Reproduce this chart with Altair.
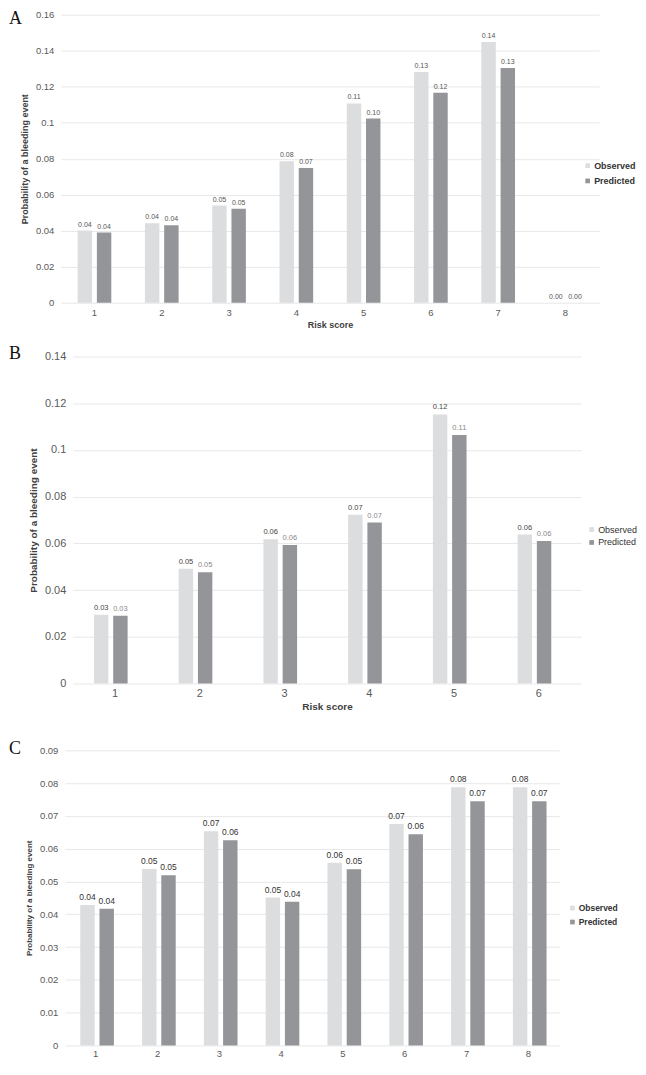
import altair as alt
import pandas as pd

series = ["Observed", "Predicted"]
colors = ["#dcdddf", "#939598"]

scores_a = [1, 2, 3, 4, 5, 6, 7, 8]
obs_a = [0.0401, 0.0442, 0.0540, 0.0786, 0.1107, 0.1281, 0.1448, 0.0]
pred_a = [0.0390, 0.0430, 0.0522, 0.0748, 0.1023, 0.1166, 0.1303, 0.0]
yticks_a = [0, 0.02, 0.04, 0.06, 0.08, 0.10, 0.12, 0.14, 0.16]

scores_b = [1, 2, 3, 4, 5, 6]
obs_b = [0.0295, 0.0491, 0.0618, 0.0723, 0.1152, 0.0638]
pred_b = [0.0290, 0.0476, 0.0593, 0.0689, 0.1064, 0.0610]
yticks_b = [0, 0.02, 0.04, 0.06, 0.08, 0.10, 0.12, 0.14]

scores_c = [1, 2, 3, 4, 5, 6, 7, 8]
obs_c = [0.0428, 0.0538, 0.0653, 0.0451, 0.0557, 0.0675, 0.0787, 0.0787]
pred_c = [0.0417, 0.0519, 0.0626, 0.0438, 0.0537, 0.0644, 0.0745, 0.0745]
yticks_c = [0, 0.01, 0.02, 0.03, 0.04, 0.05, 0.06, 0.07, 0.08, 0.09]

FONT = "Liberation Sans"


def panel(letter, scores, obs, pred, yticks, W, H, L, letter_y, xtitle,
          axis_fs, ytitle_fs, xtitle_fs, bar_fs, bar_colors, legend_fs,
          legend_bold, legend_x, legend_y, legend_rowpad, xlabel_pad):
    df = pd.DataFrame({
        "score": scores * 2,
        "series": [series[0]] * len(scores) + [series[1]] * len(scores),
        "value": obs + pred,
    })
    x_axis = alt.Axis(labelAngle=0, domain=False, ticks=False,
                      labelFontSize=axis_fs, labelColor="#595959", labelFont=FONT,
                      labelPadding=xlabel_pad, titleFontSize=xtitle_fs,
                      titleFontWeight="bold", titleColor="#404040", titleFont=FONT,
                      titlePadding=3)
    x = alt.X("score:O", title=xtitle if xtitle else None,
              scale=alt.Scale(paddingInner=0.5, paddingOuter=0.25), axis=x_axis)
    xo = alt.XOffset("series:N", sort=series, scale=alt.Scale(domain=series, paddingInner=0.25))
    y = alt.Y("value:Q", title="Probability of a bleeding event",
              scale=alt.Scale(domain=[0, yticks[-1]], nice=False),
              axis=alt.Axis(values=yticks, format=".2~f", domain=False, ticks=False,
                            gridColor="#e8e8e8", gridWidth=1,
                            labelFontSize=axis_fs, labelColor="#595959", labelFont=FONT,
                            labelPadding=7, titleFontSize=ytitle_fs, titleFontWeight="bold",
                            titleColor="#404040", titleFont=FONT, titlePadding=6))
    color = alt.Color("series:N", sort=series,
                      scale=alt.Scale(domain=series, range=colors),
                      legend=alt.Legend(title=None, orient="none", legendX=legend_x,
                                        legendY=legend_y, symbolType="square", symbolSize=22,
                                        symbolStrokeWidth=0, labelFontSize=legend_fs,
                                        labelFontWeight="bold" if legend_bold else "normal",
                                        labelColor="#333333", labelFont=FONT, labelOffset=2,
                                        rowPadding=legend_rowpad))
    base = alt.Chart(df)
    bars = base.mark_bar().encode(x=x, xOffset=xo, y=y, color=color)
    labels = base.mark_text(baseline="bottom", dy=-3, font=FONT, fontSize=bar_fs).encode(
        x=x, xOffset=xo, y=y, text=alt.Text("value:Q", format=".2f"),
        color=alt.condition("datum.series == 'Observed'", alt.value(bar_colors[0]),
                            alt.value(bar_colors[1])))
    let = alt.Chart(pd.DataFrame({"t": [letter]})).mark_text(
        align="left", baseline="top", font="Liberation Serif", fontSize=18,
        color="#111111").encode(x=alt.value(-L), y=alt.value(letter_y), text="t:N")
    return alt.layer(bars, labels, let).properties(width=W, height=H)


def spacer():
    return alt.Chart(pd.DataFrame({"a": [0]})).mark_rule(strokeOpacity=0).encode(
        x=alt.value(0), y=alt.value(0), y2=alt.value(1)).properties(width=1, height=1)


pa = panel("A", scores_a, obs_a, pred_a, yticks_a, 540, 289, 52, -5, "Risk score",
           9.5, 9, 9, 7, ["#555555", "#555555"], 9, True, 524, 147, 5.3, 5)
pb = panel("B", scores_b, obs_b, pred_b, yticks_b, 510, 328, 64, -12, "Risk score",
           11, 10, 10, 7.5, ["#444444", "#888888"], 9, False, 516, 169, 3, 4)
pc = panel("C", scores_c, obs_c, pred_c, yticks_c, 496, 296, 56, -10, None,
           9.5, 8, 8, 8.5, ["#333333", "#333333"], 8.5, True, 505, 154, 5, 3)

row_a = alt.hconcat(spacer(), pa, spacing=0).resolve_scale(color="independent")
row_b = alt.hconcat(spacer(), pb, spacing=0).resolve_scale(color="independent")
row_c = alt.hconcat(spacer(), pc, spacing=0).resolve_scale(color="independent")

top = alt.vconcat(row_a, row_b, spacing=15).resolve_scale(color="independent")
chart = alt.vconcat(top, row_c, spacing=29).resolve_scale(color="independent").properties(
    padding=0, background="white"
).configure(font=FONT, view=alt.ViewConfig(stroke="transparent", strokeWidth=0))

chart.save("out.html", embed_options={"renderer": "svg", "actions": False})
